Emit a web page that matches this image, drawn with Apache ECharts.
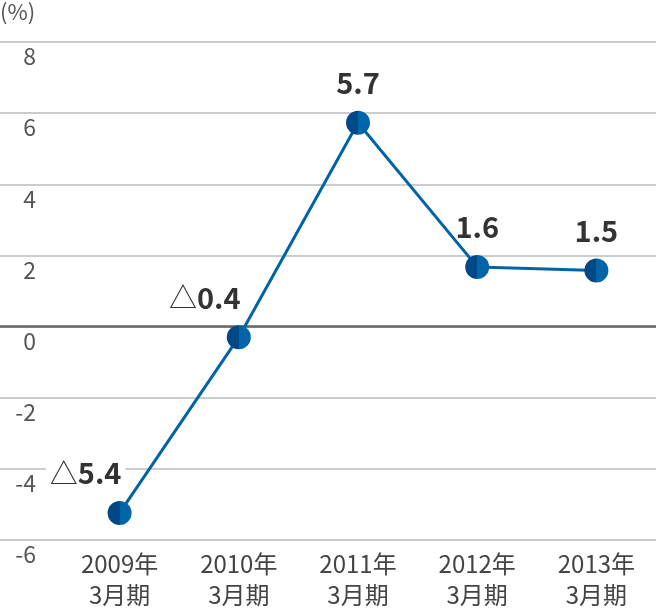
<!DOCTYPE html>
<html><head><meta charset="utf-8">
<script src="https://cdn.jsdelivr.net/npm/echarts@6/dist/echarts.min.js"></script>
<style>html,body{margin:0;padding:0;background:#fff}#c{width:656px;height:610px}</style>
</head><body><div id="c"></div>
<script>
const categories = ['2009年\n3月期', '2010年\n3月期', '2011年\n3月期', '2012年\n3月期', '2013年\n3月期'];
const values = [-5.4, -0.4, 5.7, 1.6, 1.5];
const yTicks = { min: -6, max: 8, interval: 2 };
const unitLabel = '(%)';

const FONT = '"Noto Sans CJK JP", "Noto Sans", sans-serif';
const chart = echarts.init(document.getElementById('c'));

const markerColor = new echarts.graphic.LinearGradient(0, 0, 1, 0, [
  { offset: 0, color: '#004886' }, { offset: 0.5, color: '#004886' },
  { offset: 0.5, color: '#0064a8' }, { offset: 1, color: '#0064a8' }
]);

const seriesData = values.map((v, i) => i === 0
  ? { value: v, label: { backgroundColor: '#fff', padding: [0, 4, 0, 4] } }
  : v);

chart.setOption({
  animation: false,
  graphic: [{ type: 'text', left: 0, top: 1, style: { text: unitLabel, font: '22px ' + FONT, fill: '#555' } }],
  grid: [
    { left: 0, right: 0, top: 42, bottom: 70 },
    { left: 60, width: 600, top: 42, bottom: 70 }
  ],
  xAxis: [
    { gridIndex: 0, type: 'value', min: 0, max: 1, show: false },
    { gridIndex: 1, type: 'category', data: categories, boundaryGap: true,
      axisLine: { show: false }, axisTick: { show: false },
      axisLabel: { fontFamily: FONT, fontSize: 24, color: '#444', lineHeight: 31, margin: 14 } }
  ],
  yAxis: [
    { gridIndex: 0, type: 'value', min: yTicks.min, max: yTicks.max, interval: yTicks.interval,
      axisLine: { show: false }, axisTick: { show: false },
      splitLine: { lineStyle: { color: '#cccccc', width: 2 } },
      axisLabel: { inside: true, align: 'right', margin: 36, verticalAlign: 'top', padding: [3, 0, 0, 0],
        fontFamily: FONT, fontSize: 23, color: '#555' } },
    { gridIndex: 1, type: 'value', min: yTicks.min, max: yTicks.max, interval: yTicks.interval, show: false }
  ],
  series: [
    { type: 'line', xAxisIndex: 0, yAxisIndex: 0, data: [], silent: true,
      markLine: { symbol: 'none', silent: true, label: { show: false },
        lineStyle: { color: '#666', width: 2.5, type: 'solid' }, data: [{ yAxis: 0 }] } },
    { type: 'line', xAxisIndex: 1, yAxisIndex: 1, data: seriesData, z: 5,
      lineStyle: { color: '#0063a6', width: 3 },
      symbol: 'circle', symbolSize: 24, itemStyle: { color: markerColor },
      label: { show: true, position: 'top', distance: 13,
        formatter: p => p.value < 0 ? '{t|△}{n|' + Math.abs(p.value).toFixed(1) + '}' : '{n|' + p.value.toFixed(1) + '}',
        rich: {
          t: { fontFamily: FONT, fontSize: 28, fontWeight: 'normal', color: '#333' },
          n: { fontFamily: FONT, fontSize: 29, fontWeight: 'bold', color: '#333' }
        }
      },
      labelLayout: p => p.dataIndex < 2 ? { dx: -34 } : {}
    }
  ]
});
</script></body></html>
